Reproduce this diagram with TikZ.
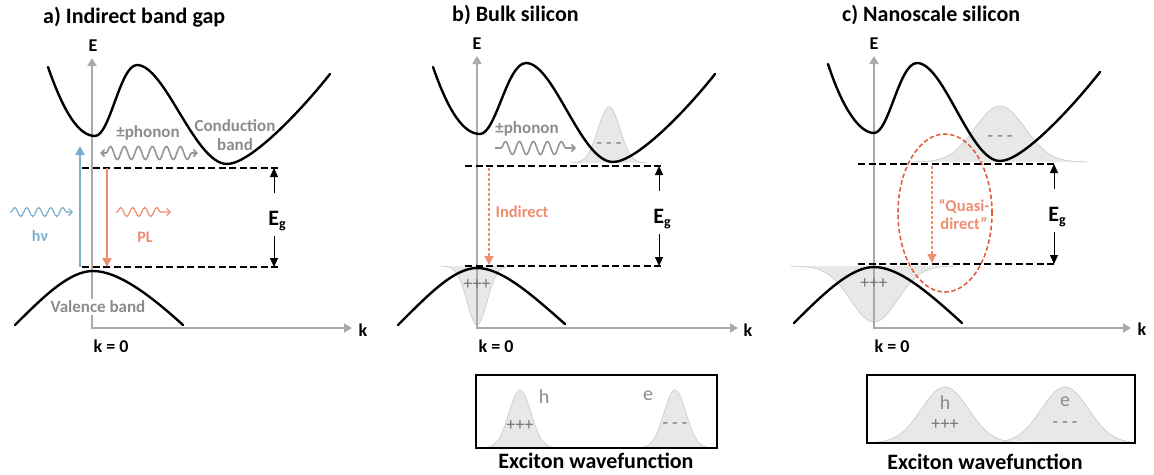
\documentclass[tikz,border=0pt]{standalone}
\usepackage{fontspec}
\setmainfont{Carlito}
\usetikzlibrary{arrows.meta,decorations.pathmorphing,shapes.geometric}
\definecolor{axgray}{RGB}{170,170,170}
\definecolor{txtgray}{RGB}{140,140,140}
\definecolor{chgray}{RGB}{115,115,115}
\definecolor{hvblue}{RGB}{125,175,205}
\definecolor{plorange}{RGB}{238,142,112}
\definecolor{ellred}{RGB}{225,95,60}
\definecolor{gfill}{RGB}{232,232,232}
\definecolor{gedge}{RGB}{200,200,200}
\definecolor{phgray}{RGB}{150,150,150}
\tikzset{
 axis/.style={draw=axgray,line width=2pt,{Triangle[width=9pt,length=8pt]}-{Triangle[width=9pt,length=8pt]}},
 band/.style={line width=2.4pt,line cap=round},
 gapline/.style={line width=2.2pt,dash pattern=on 7pt off 3.5pt},
 egarrow/.style={line width=1pt,-{Triangle[width=8pt,length=9pt]}},
 ttl/.style={font=\bfseries\fontsize{22}{25}\selectfont,anchor=west},
 axlbl/.style={font=\bfseries\fontsize{18}{21}\selectfont},
 glbl/.style={text=txtgray,font=\bfseries\fontsize{17}{19}\selectfont},
 eglbl/.style={font=\bfseries\fontsize{22}{24}\selectfont},
 olbl/.style={text=plorange,font=\bfseries\fontsize{16.5}{18}\selectfont},
 chg/.style={text=chgray,font=\fontsize{18}{18}\selectfont},
 hechar/.style={text=txtgray,font=\fontsize{20}{22}\selectfont},
 wave/.style={decorate,decoration={snake,amplitude=4.5pt,segment length=12pt,pre length=1pt,post length=5pt}},
 bigwave/.style={decorate,decoration={snake,amplitude=6.5pt,segment length=14pt,pre length=6pt,post length=6pt}},
 barb/.style={-{Straight Barb[length=3.5pt,width=7pt]}},
 dbarb/.style={{Straight Barb[length=3.5pt,width=7pt]}-{Straight Barb[length=3.5pt,width=7pt]}},
 exbox/.style={draw=black,line width=1.5pt,fill=none},
}
\newcommand\Eg{E\raisebox{-0.35ex}{\fontsize{14}{14}\selectfont g}}
\begin{document}
\begin{tikzpicture}[x=1pt,y=-1pt,every node/.style={inner sep=0pt}]
\useasboundingbox (0,0) rectangle (1154,474);

% ================= panel a =================
\node[ttl] (ta) at (43,17) {a) Indirect band gap};
\coordinate (aO) at (92,328);
\coordinate (aTop) at (92,58);
\coordinate (aRight) at (352,328);
\draw[axis] (aTop) -- (aO) -- (aRight);
\node[axlbl] (aE) at (93,46) {E};
\node[axlbl] (ak) at (363,330) {k};
\node[axlbl] (ak0) at (111,346) {k = 0};
\node[glbl,fill=white,inner sep=2pt] (aVal) at (98,307) {Valence band};
\draw[band] (48,67) .. controls (64,113) and (79,136) .. (95,136)
  .. controls (110,136) and (120,65) .. (137,65)
  .. controls (165,65) and (195,164) .. (227,164)
  .. controls (250,164) and (300,112) .. (330,74);
\draw[band] (15,325) .. controls (45,295) and (70,271) .. (93,271)
  .. controls (118,271) and (150,295) .. (183,325);
\coordinate (aT1) at (82,168); \coordinate (aT2) at (279,168);
\coordinate (aB1) at (82,267); \coordinate (aB2) at (279,267);
\draw[gapline] (aT1) -- (aT2);
\draw[gapline] (aB1) -- (aB2);
\node[eglbl] (aEg) at (277,221) {\Eg};
\coordinate (aEgU) at (274,193); \coordinate (aEgD) at (274,236);
\draw[egarrow] (aEgU) -- (aEgU |- aT1);
\draw[egarrow] (aEgD) -- (aEgD |- aB1);
% absorption and emission
\coordinate (aBl1) at (80,267); \coordinate (aBl2) at (80,146);
\draw[hvblue,line width=2.4pt,-{Triangle[width=9pt,length=9pt]}] (aBl1) -- (aBl2);
\coordinate (aPl1) at (107,168); \coordinate (aPl2) at (107,267);
\draw[plorange,line width=2.4pt,-{Triangle[width=9pt,length=9pt]}] (aPl1) -- (aPl2);
\coordinate (aW1) at (10,212); \coordinate (aW2) at (73,212);
\draw[hvblue,line width=1.2pt,wave,barb] (aW1) -- (aW2);
\node[text=hvblue,font=\bfseries\fontsize{16}{17}\selectfont] (ahv) at (40,236) {hν};
\coordinate (aP1) at (116,212); \coordinate (aP2) at (171,212);
\draw[plorange,line width=1.2pt,wave,barb] (aP1) -- (aP2);
\node[text=plorange,font=\bfseries\fontsize{16}{17}\selectfont] (aPL) at (145,237) {PL};
\coordinate (aF1) at (100,153); \coordinate (aF2) at (198,153);
\draw[phgray,line width=1.6pt,bigwave,dbarb] (aF1) -- (aF2);
\node[glbl] (aph) at (148,133) {±phonon};
\node[glbl,align=center,font=\bfseries\fontsize{17}{19}\selectfont] (acb) at (235,135) {Conduction\\band};

% ================= panel b =================
\node[ttl] (tb) at (452,15) {b) Bulk silicon};
% gaussians
\fill[gfill] plot[domain=-38:38,samples=80] ({609+\x},{163-56*exp(-(\x*\x)/242)});
\draw[gedge,line width=0.6pt] plot[domain=-38:38,samples=80] ({609+\x},{163-56*exp(-(\x*\x)/242)});
\fill[gfill] plot[domain=-38:38,samples=80] ({477+\x},{266+59*exp(-(\x*\x)/200)});
\draw[gedge,line width=0.6pt] plot[domain=-38:38,samples=80] ({477+\x},{266+59*exp(-(\x*\x)/200)});
\coordinate (bO) at (477,328);
\coordinate (bTop) at (477,56);
\coordinate (bRight) at (738,328);
\draw[axis] (bTop) -- (bO) -- (bRight);
\node[axlbl] (bE) at (477,44) {E};
\node[axlbl] (bk) at (748,330) {k};
\node[axlbl] (bk0) at (496,346) {k = 0};
\draw[band] (433,67) .. controls (449,113) and (464,134) .. (480,134)
  .. controls (496,134) and (507,63) .. (526,63)
  .. controls (554,63) and (581,162) .. (613,162)
  .. controls (636,162) and (685,112) .. (715,74);
\draw[band] (398,325) .. controls (428,295) and (454,268) .. (477,268)
  .. controls (502,268) and (532,295) .. (565,324);
\coordinate (bT1) at (465,166); \coordinate (bT2) at (663,166);
\coordinate (bB1) at (465,266); \coordinate (bB2) at (663,266);
\draw[gapline] (bT1) -- (bT2);
\draw[gapline] (bB1) -- (bB2);
\node[eglbl] (bEg) at (662,219) {\Eg};
\coordinate (bEgU) at (659,191); \coordinate (bEgD) at (659,234);
\draw[egarrow] (bEgU) -- (bEgU |- bT1);
\draw[egarrow] (bEgD) -- (bEgD |- bB1);
\coordinate (bI1) at (489,168); \coordinate (bI2) at (489,265);
\draw[plorange,line width=1.2pt,dash pattern=on 3pt off 2pt,-{Triangle[width=9pt,length=9pt]}] (bI1) -- (bI2);
\node[olbl] (bInd) at (522,212) {Indirect};
\coordinate (bF1) at (495,148); \coordinate (bF2) at (576,148);
\draw[phgray,line width=1.6pt,bigwave,barb] (bF1) -- (bF2);
\node[glbl] (bph) at (527,129) {±phonon};
\node[chg] (bminus) at (609,146) {- - -};
\node[chg] (bplus) at (477,285) {+++};

% ================= panel c =================
\node[ttl] (tc) at (842,15) {c) Nanoscale silicon};
\fill[gfill] plot[domain=-88:88,samples=100] ({1000+\x},{162-56*exp(-(\x*\x)/1250)});
\draw[gedge,line width=0.6pt] plot[domain=-88:88,samples=100] ({1000+\x},{162-56*exp(-(\x*\x)/1250)});
\fill[gfill] plot[domain=-84:84,samples=100] ({874+\x},{266+56*exp(-(\x*\x)/1100)});
\draw[gedge,line width=0.6pt] plot[domain=-84:84,samples=100] ({874+\x},{266+56*exp(-(\x*\x)/1100)});
\coordinate (cO) at (874,328);
\coordinate (cTop) at (874,56);
\coordinate (cRight) at (1131,328);
\draw[axis] (cTop) -- (cO) -- (cRight);
\node[axlbl] (cE) at (874,44) {E};
\node[axlbl] (ck) at (1142,329) {k};
\node[axlbl] (ck0) at (892,346) {k = 0};
\draw[band] (828,64) .. controls (843,110) and (860,133) .. (874,133)
  .. controls (889,133) and (899,63) .. (917,63)
  .. controls (944,63) and (970,161) .. (1000,161)
  .. controls (1022,161) and (1070,110) .. (1100,72);
\draw[band] (794,323) .. controls (824,293) and (851,267) .. (874,267)
  .. controls (899,267) and (929,293) .. (962,323);
\coordinate (cT1) at (858,164); \coordinate (cT2) at (1057,164);
\coordinate (cB1) at (858,264); \coordinate (cB2) at (1057,264);
\draw[gapline] (cT1) -- (cT2);
\draw[gapline] (cB1) -- (cB2);
\node[eglbl] (cEg) at (1057,217) {\Eg};
\coordinate (cEgU) at (1054,189); \coordinate (cEgD) at (1054,232);
\draw[egarrow] (cEgU) -- (cEgU |- cT1);
\draw[egarrow] (cEgD) -- (cEgD |- cB1);
\coordinate (cI1) at (932,166); \coordinate (cI2) at (932,263);
\draw[plorange,line width=1.2pt,dash pattern=on 3pt off 2pt,-{Triangle[width=9pt,length=9pt]}] (cI1) -- (cI2);
\node[olbl,align=center,font=\bfseries\fontsize{16.5}{18}\selectfont] (cQ) at (964,214) {“Quasi-\\direct”};
\node[draw=ellred,line width=1.6pt,dash pattern=on 4.5pt off 2.5pt,ellipse,minimum width=94pt,minimum height=158pt] (cEll) at (945,213) {};
\node[chg] (cminus) at (1000,139) {- - -};
\node[chg] (cplus) at (874,284) {+++};

% ================= exciton boxes =================
\fill[gfill] plot[domain=-37:37,samples=80] ({520+\x},{448-58*exp(-(\x*\x)/242)});
\draw[gedge,line width=0.6pt] plot[domain=-37:37,samples=80] ({520+\x},{448-58*exp(-(\x*\x)/242)});
\fill[gfill] plot[domain=-38:38,samples=80] ({675+\x},{448-58*exp(-(\x*\x)/242)});
\draw[gedge,line width=0.6pt] plot[domain=-38:38,samples=80] ({675+\x},{448-58*exp(-(\x*\x)/242)});
\node[exbox,minimum width=241pt,minimum height=73pt] (boxb) at (596.5,411.5) {};
\node[hechar] (bh) at (544,397) {h};
\node[hechar] (be) at (648,396) {e};
\node[chg] (bbp) at (520,426) {+++};
\node[chg] (bbm) at (675,426) {- - -};
\node[font=\bfseries\fontsize{22}{24}\selectfont] (bxl) at (596,461) {Exciton wavefunction};

\fill[gfill] plot[domain=-78:78,samples=100] ({945+\x},{443-56*exp(-(\x*\x)/1100)});
\draw[gedge,line width=0.6pt] plot[domain=-78:78,samples=100] ({945+\x},{443-56*exp(-(\x*\x)/1100)});
\fill[gfill] plot[domain=-62:70,samples=100] ({1065+\x},{443-56*exp(-(\x*\x)/1100)});
\draw[gedge,line width=0.6pt] plot[domain=-62:70,samples=100] ({1065+\x},{443-56*exp(-(\x*\x)/1100)});
\node[exbox,minimum width=268pt,minimum height=68pt] (boxc) at (1001,409) {};
\node[hechar] (ch) at (945,403) {h};
\node[hechar] (ce) at (1065,402) {e};
\node[chg] (ccp) at (945,425) {+++};
\node[chg] (ccm) at (1065,425) {- - -};
\node[font=\bfseries\fontsize{22}{24}\selectfont] (cxl) at (985,462) {Exciton wavefunction};
\end{tikzpicture}
\end{document}
